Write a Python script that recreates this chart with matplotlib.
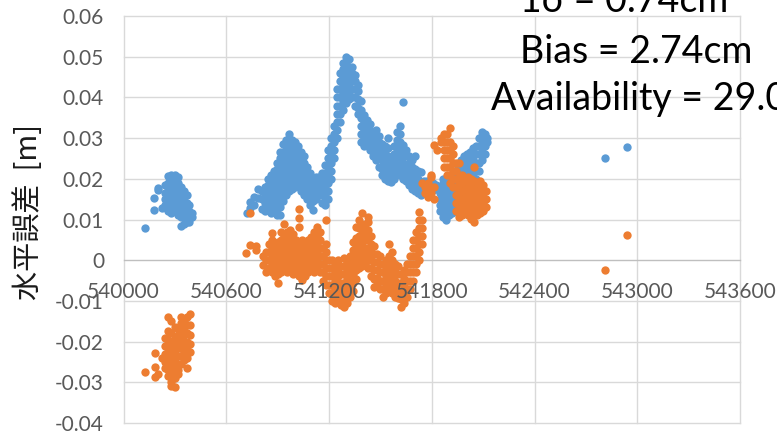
import matplotlib
matplotlib.use('Agg')
import matplotlib.pyplot as plt
from matplotlib.ticker import FuncFormatter, MultipleLocator

# Readings taken column by column: (easting, [horizontal errors at that easting])
blue_west = [
    (540126, [0.0079]),
    (540180, [0.0123, 0.0152]),
    (540200, [0.0178, 0.0172]),
    (540222, [0.0128]),
    (540245, [0.0135, 0.0150, 0.0165, 0.0185]),
    (540262, [0.0120, 0.0140, 0.0155, 0.0170, 0.0190, 0.0208]),
    (540280, [0.0115, 0.0130, 0.0150, 0.0165, 0.0180, 0.0195, 0.0210]),
    (540298, [0.0120, 0.0135, 0.0150, 0.0170, 0.0185, 0.0200, 0.0210]),
    (540316, [0.0110, 0.0125, 0.0145, 0.0160, 0.0175, 0.0190, 0.0205]),
    (540334, [0.0085, 0.0105, 0.0120, 0.0135, 0.0150, 0.0165, 0.0180]),
    (540352, [0.0090, 0.0110, 0.0125, 0.0140, 0.0155, 0.0170]),
    (540370, [0.0095, 0.0110, 0.0125, 0.0140, 0.0160]),
    (540385, [0.0095, 0.0105, 0.0120, 0.0135]),
    (540400, [0.0105, 0.0115]),
]
blue_mid = [
    (540721, [0.0115]),
    (540739, [0.0143, 0.0128]),
    (540762, [0.0155, 0.0135]),
    (540786, [0.0154, 0.0175]),
    (540809, [0.0125, 0.0150, 0.0170]),
    (540826, [0.0121, 0.0140, 0.0160, 0.0180]),
    (540844, [0.0130, 0.0147, 0.0165, 0.0185, 0.0200]),
    (540862, [0.0115, 0.0130, 0.0150, 0.0170, 0.0190, 0.0209]),
    (540879, [0.0120, 0.0140, 0.0160, 0.0180, 0.0200, 0.0220]),
    (540897, [0.0110, 0.0125, 0.0145, 0.0165, 0.0185, 0.0205, 0.0225, 0.0240]),
    (540914, [0.0110, 0.0130, 0.0150, 0.0170, 0.0190, 0.0210, 0.0230, 0.0250, 0.0265]),
    (540932, [0.0145, 0.0165, 0.0185, 0.0205, 0.0225, 0.0245, 0.0265, 0.0285]),
    (540949, [0.0160, 0.0180, 0.0200, 0.0220, 0.0240, 0.0260, 0.0280, 0.0295]),
    (540967, [0.0170, 0.0190, 0.0210, 0.0230, 0.0250, 0.0270, 0.0290, 0.0310]),
    (540984, [0.0175, 0.0195, 0.0215, 0.0235, 0.0255, 0.0275, 0.0295]),
    (541002, [0.0180, 0.0200, 0.0220, 0.0240, 0.0260, 0.0280, 0.0290]),
    (541020, [0.0185, 0.0205, 0.0225, 0.0245, 0.0265, 0.0280]),
    (541037, [0.0170, 0.0190, 0.0210, 0.0230, 0.0250, 0.0266]),
    (541055, [0.0160, 0.0180, 0.0200, 0.0220, 0.0240, 0.0255]),
    (541072, [0.0150, 0.0170, 0.0190, 0.0210, 0.0230]),
    (541090, [0.0135, 0.0155, 0.0175, 0.0195, 0.0215]),
    (541107, [0.0123, 0.0145, 0.0165, 0.0185, 0.0200]),
    (541125, [0.0150, 0.0170, 0.0190, 0.0205]),
    (541142, [0.0160, 0.0175, 0.0190, 0.0205]),
    (541160, [0.0140, 0.0160, 0.0180, 0.0200, 0.0215]),
    (541177, [0.0135, 0.0155, 0.0175, 0.0195, 0.0215, 0.0235]),
    (541195, [0.0150, 0.0170, 0.0190, 0.0210, 0.0230, 0.0250, 0.0270]),
    (541212, [0.0200, 0.0220, 0.0240, 0.0260, 0.0280, 0.0300]),
    (541230, [0.0250, 0.0270, 0.0290, 0.0310, 0.0330]),
    (541248, [0.0300, 0.0320, 0.0340, 0.0360, 0.0380, 0.0400, 0.0420]),
    (541265, [0.0340, 0.0360, 0.0380, 0.0400, 0.0420, 0.0440, 0.0460]),
    (541283, [0.0370, 0.0390, 0.0410, 0.0430, 0.0450, 0.0470, 0.0485]),
    (541300, [0.0386, 0.0405, 0.0425, 0.0445, 0.0465, 0.0485, 0.0500]),
    (541318, [0.0395, 0.0415, 0.0435, 0.0455, 0.0475, 0.0495]),
    (541335, [0.0400, 0.0420, 0.0440, 0.0460, 0.0475]),
    (541353, [0.0380, 0.0400, 0.0420, 0.0440, 0.0455]),
    (541370, [0.0360, 0.0375, 0.0395, 0.0415, 0.0430]),
    (541388, [0.0290, 0.0310, 0.0330, 0.0350, 0.0370, 0.0390]),
    (541405, [0.0280, 0.0300, 0.0320, 0.0340, 0.0356]),
    (541423, [0.0285, 0.0305, 0.0325, 0.0345]),
    (541440, [0.0270, 0.0283, 0.0300, 0.0320, 0.0335]),
    (541458, [0.0255, 0.0275, 0.0295, 0.0315]),
    (541475, [0.0245, 0.0265, 0.0285, 0.0305, 0.0320]),
    (541493, [0.0230, 0.0250, 0.0270, 0.0290, 0.0305]),
    (541510, [0.0209, 0.0225, 0.0245, 0.0265, 0.0285]),
    (541528, [0.0200, 0.0220, 0.0240, 0.0260, 0.0280]),
    (541545, [0.0195, 0.0215, 0.0235, 0.0255, 0.0275, 0.0300]),
    (541563, [0.0192, 0.0210, 0.0230, 0.0250]),
    (541580, [0.0200, 0.0220, 0.0240, 0.0260, 0.0280]),
    (541598, [0.0215, 0.0235, 0.0255, 0.0275, 0.0295, 0.0315]),
    (541616, [0.0210, 0.0230, 0.0250, 0.0270, 0.0290, 0.0310, 0.0330]),
    (541633, [0.0200, 0.0220, 0.0240, 0.0260, 0.0283, 0.0388]),
    (541651, [0.0195, 0.0215, 0.0235, 0.0255, 0.0270]),
    (541668, [0.0185, 0.0200, 0.0220, 0.0240, 0.0255]),
    (541686, [0.0175, 0.0190, 0.0210, 0.0230, 0.0245]),
    (541703, [0.0170, 0.0185, 0.0205, 0.0225, 0.0255]),
    (541721, [0.0165, 0.0180, 0.0200, 0.0220]),
    (541738, [0.0160, 0.0175, 0.0190, 0.0217]),
    (541756, [0.0165, 0.0180, 0.0195]),
    (541773, [0.0165, 0.0180, 0.0195]),
    (541791, [0.0170, 0.0185]),
    (541808, [0.0172, 0.0190]),
    (541826, [0.0174, 0.0185]),
]
blue_east = [
    (541849, [0.0120, 0.0135, 0.0150, 0.0165, 0.0180]),
    (541866, [0.0105, 0.0120, 0.0140, 0.0160, 0.0190, 0.0200]),
    (541884, [0.0098, 0.0115, 0.0135, 0.0155, 0.0175, 0.0195]),
    (541901, [0.0110, 0.0125, 0.0145, 0.0165, 0.0185]),
    (541919, [0.0115, 0.0135, 0.0155, 0.0175]),
    (541937, [0.0120, 0.0140, 0.0160, 0.0180, 0.0200]),
    (541954, [0.0130, 0.0150, 0.0170, 0.0190, 0.0210, 0.0225]),
    (541972, [0.0150, 0.0170, 0.0190, 0.0210, 0.0230, 0.0245]),
    (541989, [0.0160, 0.0180, 0.0200, 0.0220, 0.0240, 0.0255]),
    (542007, [0.0170, 0.0190, 0.0210, 0.0230, 0.0250, 0.0260]),
    (542024, [0.0175, 0.0195, 0.0215, 0.0235, 0.0255, 0.0265]),
    (542042, [0.0185, 0.0205, 0.0225, 0.0245, 0.0265, 0.0275]),
    (542059, [0.0200, 0.0220, 0.0240, 0.0260, 0.0280]),
    (542077, [0.0220, 0.0240, 0.0260, 0.0280, 0.0300]),
    (542094, [0.0245, 0.0265, 0.0285, 0.0305, 0.0315]),
    (542112, [0.0260, 0.0280, 0.0300, 0.0310]),
    (542124, [0.0290, 0.0300]),
    (542813, [0.0251]),
    (542940, [0.0278]),
]

orange_west = [
    (540126, [-0.0275]),
    (540184, [-0.0229, -0.0262, -0.0287]),
    (540200, [-0.0280]),
    (540222, [-0.0241]),
    (540245, [-0.0190, -0.0210, -0.0230, -0.0250, -0.0265]),
    (540262, [-0.0140, -0.0175, -0.0195, -0.0215, -0.0235, -0.0255, -0.0270, -0.0285]),
    (540280, [-0.0150, -0.0180, -0.0200, -0.0220, -0.0240, -0.0260, -0.0280, -0.0300, -0.0310]),
    (540298, [-0.0165, -0.0190, -0.0210, -0.0230, -0.0250, -0.0270, -0.0290, -0.0312]),
    (540316, [-0.0170, -0.0185, -0.0200, -0.0215, -0.0235, -0.0255, -0.0270, -0.0280]),
    (540334, [-0.0140, -0.0155, -0.0175, -0.0195, -0.0215, -0.0235, -0.0255]),
    (540352, [-0.0150, -0.0165, -0.0185, -0.0205, -0.0225, -0.0245]),
    (540370, [-0.0140, -0.0160, -0.0180, -0.0200, -0.0220, -0.0240, -0.0265]),
    (540388, [-0.0133, -0.0160, -0.0185, -0.0205, -0.0225]),
]
orange_mid = [
    (540716, [0.0018]),
    (540739, [0.0115, 0.0037]),
    (540774, [0.0034, 0.0025]),
    (540815, [-0.0012, 0.0010]),
    (540832, [-0.0029, 0.0000, 0.0020]),
    (540850, [-0.0020, 0.0000, 0.0020, 0.0040]),
    (540867, [-0.0030, -0.0010, 0.0010, 0.0030, 0.0050, 0.0066]),
    (540885, [-0.0040, -0.0020, 0.0000, 0.0020, 0.0040]),
    (540902, [-0.0057, -0.0035, -0.0015, 0.0005, 0.0025, 0.0045]),
    (540920, [-0.0030, -0.0010, 0.0010, 0.0030, 0.0050, 0.0070]),
    (540938, [-0.0020, 0.0000, 0.0020, 0.0040, 0.0060, 0.0090]),
    (540955, [-0.0030, -0.0010, 0.0010, 0.0030, 0.0050, 0.0070]),
    (540973, [-0.0025, -0.0005, 0.0015, 0.0035, 0.0055, 0.0075]),
    (540990, [-0.0035, -0.0015, 0.0005, 0.0025, 0.0045, 0.0065]),
    (541008, [-0.0030, -0.0010, 0.0010, 0.0030, 0.0050]),
    (541025, [-0.0040, -0.0020, 0.0000, 0.0020, 0.0040, 0.0082, 0.0103, 0.0127]),
    (541043, [-0.0049, -0.0030, -0.0010, 0.0010, 0.0030, 0.0050]),
    (541060, [-0.0040, -0.0020, 0.0000, 0.0020, 0.0040]),
    (541078, [-0.0030, -0.0010, 0.0010, 0.0030, 0.0050]),
    (541096, [-0.0020, 0.0000, 0.0020, 0.0040, 0.0057]),
    (541113, [-0.0030, -0.0010, 0.0010, 0.0030, 0.0050, 0.0070]),
    (541131, [-0.0020, 0.0000, 0.0020, 0.0040, 0.0060, 0.0082]),
    (541148, [-0.0030, -0.0010, 0.0010, 0.0030, 0.0050, 0.0070]),
    (541166, [-0.0050, -0.0030, -0.0010, 0.0010, 0.0030]),
    (541183, [-0.0060, -0.0040, -0.0020, 0.0000, 0.0020, 0.0040, 0.0098]),
    (541201, [-0.0080, -0.0060, -0.0040, -0.0020, 0.0000]),
    (541218, [-0.0100, -0.0080, -0.0060, -0.0040, -0.0020, 0.0000]),
    (541236, [-0.0106, -0.0090, -0.0070, -0.0050, -0.0030, -0.0012]),
    (541253, [-0.0100, -0.0080, -0.0060, -0.0040, -0.0020, 0.0000]),
    (541271, [-0.0110, -0.0093, -0.0075, -0.0055, -0.0035, -0.0015]),
    (541288, [-0.0115, -0.0095, -0.0075, -0.0055, -0.0035, -0.0015, 0.0005]),
    (541306, [-0.0105, -0.0085, -0.0065, -0.0045, -0.0025, -0.0005]),
    (541323, [-0.0090, -0.0070, -0.0050, -0.0030, -0.0010, 0.0010]),
    (541341, [-0.0075, -0.0055, -0.0035, -0.0015, 0.0005, 0.0025, 0.0045]),
    (541358, [-0.0045, -0.0025, -0.0005, 0.0015, 0.0035, 0.0055, 0.0082]),
    (541376, [-0.0020, 0.0000, 0.0020, 0.0040, 0.0060, 0.0080, 0.0100]),
    (541394, [-0.0015, 0.0005, 0.0025, 0.0045, 0.0065, 0.0085, 0.0115]),
    (541411, [-0.0010, 0.0010, 0.0030, 0.0050, 0.0070, 0.0090]),
    (541429, [-0.0020, 0.0000, 0.0012, 0.0030, 0.0053, 0.0075, 0.0094, 0.0106]),
    (541446, [-0.0040, -0.0020, 0.0000, 0.0020, 0.0040, 0.0060]),
    (541464, [-0.0066, -0.0045, -0.0025, -0.0005, 0.0015, 0.0035]),
    (541481, [-0.0060, -0.0044, -0.0025, -0.0005, 0.0015]),
    (541499, [-0.0070, -0.0050, -0.0030, -0.0010, 0.0010]),
    (541516, [-0.0090, -0.0070, -0.0050, -0.0030, -0.0010]),
    (541534, [-0.0080, -0.0060, -0.0040, -0.0020, 0.0000]),
    (541552, [-0.0070, -0.0053, -0.0030, -0.0010, 0.0010, 0.0041]),
    (541569, [-0.0080, -0.0060, -0.0040, -0.0020, 0.0000, 0.0020]),
    (541586, [-0.0090, -0.0070, -0.0050, -0.0030, -0.0010]),
    (541604, [-0.0094, -0.0075, -0.0055, -0.0035, -0.0015]),
    (541621, [-0.0115, -0.0095, -0.0075, -0.0055, -0.0035]),
    (541639, [-0.0105, -0.0085, -0.0065, -0.0045, -0.0025]),
    (541657, [-0.0090, -0.0070, -0.0050, -0.0030, -0.0010]),
    (541674, [-0.0070, -0.0050, -0.0030, -0.0010, 0.0010]),
    (541692, [-0.0050, -0.0030, -0.0010, 0.0010, 0.0030, 0.0049]),
    (541709, [-0.0030, -0.0010, 0.0010, 0.0030, 0.0050, 0.0070]),
    (541727, [0.0000, 0.0020, 0.0040, 0.0060, 0.0080, 0.0100, 0.0119]),
    (541744, [0.0040, 0.0060, 0.0080, 0.0100, 0.0190]),
    (541762, [0.0165, 0.0180]),
    (541779, [0.0156, 0.0175, 0.0190]),
    (541797, [0.0165, 0.0204, 0.0209]),
    (541814, [0.0150, 0.0180, 0.0283]),
]
orange_east = [
    (541832, [0.0270]),
    (541855, [0.0290, 0.0300]),
    (541872, [0.0230, 0.0250, 0.0270, 0.0290, 0.0311]),
    (541890, [0.0210, 0.0230, 0.0250, 0.0270, 0.0290, 0.0310]),
    (541907, [0.0190, 0.0210, 0.0230, 0.0250, 0.0270, 0.0290, 0.0324]),
    (541925, [0.0180, 0.0200, 0.0220, 0.0240, 0.0260, 0.0280]),
    (541942, [0.0120, 0.0140, 0.0160, 0.0180, 0.0200, 0.0220, 0.0240]),
    (541960, [0.0106, 0.0125, 0.0145, 0.0165, 0.0185, 0.0205, 0.0238]),
    (541978, [0.0110, 0.0130, 0.0150, 0.0170, 0.0190, 0.0210]),
    (541995, [0.0115, 0.0135, 0.0155, 0.0175, 0.0195]),
    (542013, [0.0110, 0.0130, 0.0150, 0.0170, 0.0190, 0.0205]),
    (542030, [0.0102, 0.0120, 0.0140, 0.0160, 0.0180, 0.0200]),
    (542048, [0.0093, 0.0115, 0.0135, 0.0155, 0.0175, 0.0195, 0.0229]),
    (542065, [0.0110, 0.0130, 0.0150, 0.0170, 0.0190]),
    (542083, [0.0115, 0.0135, 0.0155, 0.0175, 0.0195]),
    (542100, [0.0120, 0.0140, 0.0164, 0.0185]),
    (542118, [0.0130, 0.0150, 0.0170]),
    (542813, [-0.0025]),
    (542940, [0.0061]),
]

stats_lines = ['1σ = 0.74cm', 'Bias = 2.74cm', 'Availability = 29.0%']

X_MIN, X_MAX, X_STEP = 540000, 543600, 600
Y_MIN, Y_MAX, Y_STEP = -0.04, 0.06, 0.01

BLUE = '#5B9BD5'
ORANGE = '#ED7D31'
GRID = '#D9D9D9'


def flatten(columns):
    xs, ys = [], []
    for x, vals in columns:
        xs += [x] * len(vals)
        ys += vals
    return xs, ys


bx, by = flatten(blue_west + blue_mid + blue_east)
ox, oy = flatten(orange_west + orange_mid + orange_east)

fig = plt.figure(figsize=(7.77, 4.32), dpi=100)
ax = fig.add_axes([123.5 / 777, 9 / 432, 616.5 / 777, 407 / 432])

ax.set_xlim(X_MIN, X_MAX)
ax.set_ylim(Y_MIN, Y_MAX)
ax.xaxis.set_major_locator(MultipleLocator(X_STEP))
ax.yaxis.set_major_locator(MultipleLocator(Y_STEP))
ax.yaxis.set_major_formatter(FuncFormatter(lambda v, p: '0' if abs(v) < 1e-9 else f'{v:.2f}'))
ax.xaxis.set_major_formatter(FuncFormatter(lambda v, p: f'{v:.0f}'))

# gridlines behind the points, tick labels in front of them (Excel look)
for xv in ax.get_xticks():
    if X_MIN - 1 <= xv <= X_MAX + 1:
        ax.axvline(xv, color=GRID, linewidth=1.0, zorder=1, clip_on=False)
for yv in ax.get_yticks():
    if Y_MIN - 1e-6 <= yv <= Y_MAX + 1e-6 and abs(yv) > 1e-9:
        ax.axhline(yv, color=GRID, linewidth=1.0, zorder=1, clip_on=False)
ax.set_xlim(X_MIN, X_MAX)
ax.set_ylim(Y_MIN, Y_MAX)

ax.scatter(bx, by, s=36, color=BLUE, linewidths=0, zorder=3)
ax.scatter(ox, oy, s=36, color=ORANGE, linewidths=0, zorder=4)

for side in ['top', 'right', 'left']:
    ax.spines[side].set_visible(False)
ax.spines['bottom'].set_position(('data', 0))
ax.spines['bottom'].set_color('#BFBFBF')
ax.spines['bottom'].set_linewidth(1.0)
ax.spines['bottom'].set_zorder(2)

ax.tick_params(axis='both', length=0, labelsize=15, labelcolor='#595959')
ax.tick_params(axis='x', pad=16)
ax.tick_params(axis='y', pad=14)
ax.xaxis.set_zorder(6)
ax.yaxis.set_zorder(6)
for lab in ax.get_xticklabels() + ax.get_yticklabels():
    lab.set_family('Lato')

fig.text(29 / 777, 1 - 212 / 432, '水平誤差  [m]', rotation=90, ha='center', va='center',
         fontsize=21, family=['Noto Sans CJK JP', 'DejaVu Sans'], color='#1a1a1a')

# stats text in the upper right, partly running off the canvas
fig.text(520 / 777, 1 - 12 / 432, stats_lines[0], ha='left', va='baseline', fontsize=27,
         family=['Lato', 'DejaVu Sans'])
fig.text(520 / 777, 1 - 63 / 432, stats_lines[1], ha='left', va='baseline', fontsize=27,
         family='Lato')
fig.text(491 / 777, 1 - 110 / 432, stats_lines[2], ha='left', va='baseline', fontsize=27,
         family='Lato')

fig.savefig('out.png', dpi=100, facecolor='white')
